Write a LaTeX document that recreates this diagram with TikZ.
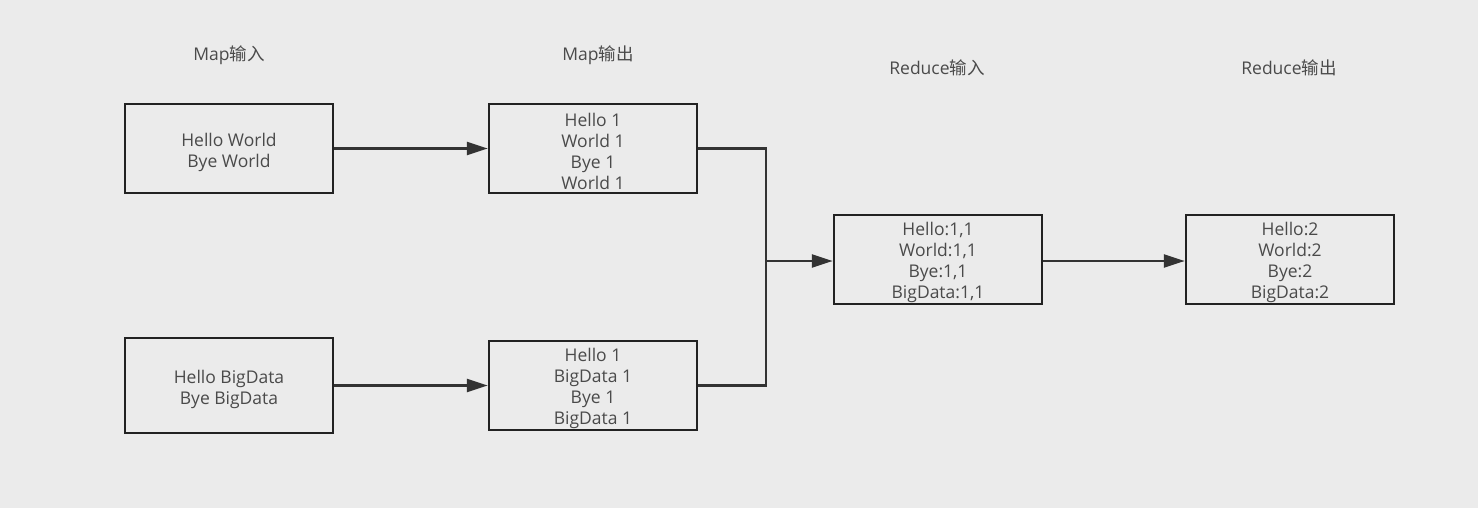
\documentclass[tikz,border=0pt]{standalone}
\usepackage{fontspec}
\setmainfont{Open Sans}
\newfontfamily\cjk{Noto Sans CJK SC}
\usetikzlibrary{arrows.meta}
\definecolor{bg}{HTML}{EBEBEB}
\definecolor{txt}{HTML}{4A4A4A}
\definecolor{edge}{HTML}{222222}
\definecolor{wire}{HTML}{333333}
\tikzset{
  box/.style={draw=edge, line width=2.5pt, minimum width=208pt, minimum height=89pt,
    inner sep=0pt},
  boxtext/.style={inner sep=0pt, align=center, text=txt, font=\fontsize{17.5pt}{21pt}\selectfont},
  title/.style={text=txt, font=\fontsize{17.5pt}{21pt}\selectfont, inner sep=0pt},
  conn/.style={draw=wire, line width=2.5pt, -{Triangle[length=21pt,width=13pt]}},
  plain/.style={draw=wire, line width=2.5pt}
}
\begin{document}
\begin{tikzpicture}[x=1pt,y=-1pt]
\fill[bg] (0,0) rectangle (1478,508);
\useasboundingbox (0,0) rectangle (1478,508);
\node[title] (t1) at (229,55) {Map{\cjk 输入}};
\node[title] (t2) at (598,55) {Map{\cjk 输出}};
\node[title] (t3) at (937,68) {Reduce{\cjk 输入}};
\node[title] (t4) at (1289,68) {Reduce{\cjk 输出}};
\node[box] (a1) at (229,148.5) {};
\node[box] (b1) at (593,148.5) {};
\node[box, minimum height=95pt] (a2) at (229,385.5) {};
\node[box] (b2) at (593,385.5) {};
\node[box] (c) at (938,259.5) {};
\node[box] (d) at (1290,259.5) {};
\node[boxtext] (a1t) at ([yshift=-4pt]a1.center) {Hello World\\Bye World};
\node[boxtext] (b1t) at ([yshift=-3pt]b1.center) {Hello 1\\World 1\\Bye 1\\World 1};
\node[boxtext] (a2t) at ([yshift=-4pt]a2.center) {Hello BigData\\Bye BigData};
\node[boxtext] (b2t) at ([yshift=-3pt]b2.center) {Hello 1\\BigData 1\\Bye 1\\BigData 1};
\node[boxtext] (ct) at ([yshift=-3pt]c.center) {Hello:1,1\\World:1,1\\Bye:1,1\\BigData:1,1};
\node[boxtext] (dt) at ([yshift=-3pt]d.center) {Hello:2\\World:2\\Bye:2\\BigData:2};
\coordinate (j) at (766,261);
\draw[conn] (a1.east) -- (b1.west);
\draw[conn] (a2.east) -- (b2.west);
\draw[plain] (b1.east) -| (j);
\draw[plain] (b2.east) -| (j);
\draw[conn] (j) -- (j -| c.west);
\draw[conn] (c.east |- j) -- (j -| d.west);
\end{tikzpicture}
\end{document}
